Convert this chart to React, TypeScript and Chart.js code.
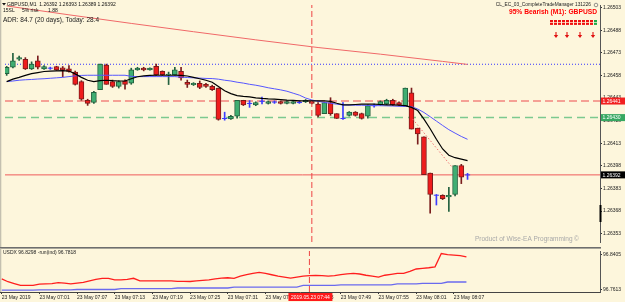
import React, { useEffect, useRef } from "react";
import { Chart, registerables } from "chart.js";
Chart.register(...registerables);

// ---------- data ----------
const xTickIdx = [0, 6, 12, 18, 24, 30, 36, 42, 48, 54, 60, 66, 72];
const xTickLabels = [
  "23 May 2019", "23 May 07:01", "23 May 07:07", "23 May 07:13", "23 May 07:19",
  "23 May 07:25", "23 May 07:31", "23 May 07:37", "23 May 07:43", "23 May 07:49",
  "23 May 07:55", "23 May 08:01", "23 May 08:07",
];
const priceTicks = [1.26503, 1.26488, 1.26473, 1.26458, 1.26443, 1.26428, 1.26413, 1.26398, 1.26383, 1.26368, 1.26353];
const usdxTicks = [96.8405, 96.7613];

const open = [
  1.264592, 1.264634, 1.264687, 1.264687, 1.264623, 1.264677, 1.264623, 1.264628, 1.264639, 1.26463,
  1.264623, 1.264602, 1.264539, 1.264415, 1.2644, 1.264486, 1.264649, 1.264539, 1.264507, 1.264543,
  1.264528, 1.264617, 1.264628, 1.264617, 1.264641, 1.264607, 1.264585, 1.264585, 1.264607, 1.264534,
  1.264518, 1.264528, 1.264521, 1.264507, 1.264496, 1.264294, 1.264292, 1.264309, 1.264415, 1.264394,
  1.264385, 1.264408, 1.264394, 1.264403, 1.264407, 1.264394, 1.264394, 1.2644, 1.264405, 1.264407,
  1.26439, 1.264326, 1.2644, 1.264326, 1.264294, 1.264315, 1.264336, 1.264326, 1.264309, 1.264379,
  1.264385, 1.26439, 1.264415, 1.2644, 1.264379, 1.264464, 1.26423, 1.264173, 1.263932, 1.263785,
  1.263784, 1.263773, 1.26379, 1.263981, 1.26392,
];
const high = [
  1.26464, 1.264726, 1.264708, 1.264698, 1.26467, 1.264709, 1.264645, 1.264635, 1.264641, 1.264639,
  1.264645, 1.264609, 1.264545, 1.264422, 1.264475, 1.264655, 1.264655, 1.264549, 1.264545, 1.26455,
  1.264628, 1.264634, 1.264634, 1.26463, 1.264655, 1.26461, 1.264602, 1.264634, 1.264634, 1.264549,
  1.264532, 1.264543, 1.264528, 1.264515, 1.264496, 1.264336, 1.264315, 1.264415, 1.264415, 1.264413,
  1.264405, 1.264436, 1.264411, 1.264411, 1.264411, 1.264411, 1.264411, 1.264411, 1.26442, 1.264411,
  1.2644, 1.2644, 1.264432, 1.264326, 1.2644, 1.26434, 1.26434, 1.26433, 1.264385, 1.26439,
  1.264411, 1.264422, 1.264422, 1.264405, 1.264496, 1.264496, 1.26423, 1.264173, 1.263932, 1.26379,
  1.263788, 1.263837, 1.263981, 1.26399, 1.26393,
];
const low = [
  1.26458, 1.26463, 1.26468, 1.264619, 1.264619, 1.264623, 1.264619, 1.26462, 1.264613, 1.264571,
  1.264602, 1.264516, 1.264415, 1.264381, 1.264394, 1.264486, 1.264521, 1.2645, 1.264496, 1.264489,
  1.264521, 1.264614, 1.26461, 1.264614, 1.26458, 1.26458, 1.264519, 1.264582, 1.264549, 1.2645,
  1.264513, 1.264492, 1.2645, 1.26448, 1.264283, 1.264283, 1.264288, 1.264296, 1.26438, 1.264368,
  1.264379, 1.26439, 1.26439, 1.264394, 1.26439, 1.26439, 1.26439, 1.264394, 1.2644, 1.26439,
  1.264304, 1.264326, 1.264315, 1.264294, 1.264288, 1.26431, 1.26431, 1.26429, 1.264296, 1.26437,
  1.26438, 1.264385, 1.26438, 1.264379, 1.264379, 1.264224, 1.264124, 1.263921, 1.263666, 1.26372,
  1.263756, 1.263677, 1.26378, 1.263862, 1.26389,
];
const close = [
  1.264634, 1.264677, 1.264698, 1.264623, 1.264655, 1.264634, 1.264639, 1.264628, 1.264617, 1.264617,
  1.264607, 1.264521, 1.264422, 1.264394, 1.264468, 1.264655, 1.264521, 1.264507, 1.264539, 1.264521,
  1.264617, 1.264628, 1.264617, 1.264628, 1.264585, 1.264585, 1.264588, 1.264617, 1.264564, 1.264521,
  1.264528, 1.2645, 1.264507, 1.264486, 1.264288, 1.264294, 1.264309, 1.264415, 1.264385, 1.264394,
  1.2644, 1.264408, 1.264407, 1.264403, 1.264394, 1.264407, 1.264407, 1.2644, 1.264415, 1.264394,
  1.264315, 1.2644, 1.264326, 1.264294, 1.264294, 1.264336, 1.264315, 1.264294, 1.264379, 1.264379,
  1.264407, 1.264415, 1.264385, 1.264385, 1.264496, 1.264224, 1.264192, 1.263921, 1.26379, 1.263785,
  1.263762, 1.263784, 1.263981, 1.263905, 1.26392,
];
const maFast = [
  1.264539, 1.264555, 1.264567, 1.26458, 1.264592, 1.264599, 1.264606, 1.264608, 1.26461, 1.264612,
  1.264609, 1.26459, 1.264567, 1.264548, 1.264539, 1.264545, 1.264548, 1.264545, 1.264543, 1.264543,
  1.264558, 1.264571, 1.264577, 1.26458, 1.264581, 1.264581, 1.264581, 1.264581, 1.26458, 1.264576,
  1.264567, 1.264558, 1.264548, 1.264535, 1.264507, 1.264478, 1.264459, 1.264446, 1.264441, 1.264437,
  1.264431, 1.264427, 1.264424, 1.264422, 1.264419, 1.264416, 1.264414, 1.264411, 1.264411, 1.264411,
  1.264411, 1.264411, 1.264408, 1.264395, 1.264385, 1.264385, 1.264387, 1.264389, 1.26439, 1.264389,
  1.264387, 1.264385, 1.264384, 1.264382, 1.264379, 1.264368, 1.264347, 1.26429, 1.264226, 1.264156,
  1.264092, 1.26405, 1.264034, 1.264025, 1.264015,
];
const maSlow = [
  1.264539, 1.264543, 1.264548, 1.264551, 1.264553, 1.264556, 1.264558, 1.264561, 1.264564, 1.264567,
  1.264572, 1.264577, 1.26458, 1.264581, 1.264581, 1.264581, 1.264581, 1.264581, 1.264581, 1.264581,
  1.264574, 1.264572, 1.264572, 1.264572, 1.264572, 1.264572, 1.264572, 1.264572, 1.264569, 1.264566,
  1.264564, 1.264562, 1.26456, 1.264559, 1.264555, 1.264548, 1.264543, 1.264535, 1.264529, 1.264521,
  1.264515, 1.264507, 1.264498, 1.264491, 1.264484, 1.264475, 1.264462, 1.264449, 1.26443, 1.264417,
  1.264408, 1.264401, 1.264395, 1.264389, 1.264384, 1.264383, 1.264382, 1.264382, 1.264381, 1.26438,
  1.264379, 1.264378, 1.264377, 1.264375, 1.264374, 1.264373, 1.264357, 1.264334, 1.264306, 1.264277,
  1.264248, 1.26422, 1.264197, 1.264175, 1.264156,
];
const ma200Idx = [0, 10, 20, 30, 40, 50, 60, 70, 74];
const ma200 = [1.265041, 1.264982, 1.264925, 1.26487, 1.264816, 1.264765, 1.264721, 1.264673, 1.264653];

const usdx = [
  96.7851, 96.7788, 96.7746, 96.7704, 96.7704, 96.7704, 96.7736, 96.774, 96.7746, 96.7767,
  96.7757, 96.774, 96.7757, 96.7773, 96.7809, 96.7841, 96.7862, 96.7862, 96.783, 96.783,
  96.7841, 96.7866, 96.7809, 96.7809, 96.7809, 96.7809, 96.7809, 96.7809, 96.7798, 96.7798,
  96.7794, 96.7809, 96.782, 96.783, 96.7851, 96.7872, 96.7878, 96.7866, 96.7914, 96.795,
  96.7978, 96.7999, 96.7978, 96.7946, 96.7914, 96.7893, 96.7872, 96.7893, 96.7914, 96.7925,
  96.7929, 96.7925, 96.7914, 96.7925, 96.795, 96.7967, 96.7978, 96.7963, 96.7935, 96.7914,
  96.7893, 96.7935, 96.7956, 96.7978, 96.7978, 96.802, 96.8076, 96.8089, 96.8104, 96.8125,
  96.8426, 96.8399, 96.8388, 96.8378, 96.835,
];
const usdxRun = [
  96.7598, 96.7598, 96.7598, 96.7598, 96.7598, 96.7598, 96.7605, 96.7605, 96.7605, 96.7605,
  96.7605, 96.7605, 96.7613, 96.7613, 96.7613, 96.7613, 96.7613, 96.7613, 96.7613, 96.7634,
  96.7634, 96.7634, 96.7634, 96.7634, 96.7634, 96.7634, 96.7634, 96.7634, 96.7647, 96.7647,
  96.7647, 96.7647, 96.7647, 96.7647, 96.7647, 96.7647, 96.7647, 96.7668, 96.7668, 96.7668,
  96.7668, 96.7668, 96.7668, 96.7668, 96.7668, 96.7668, 96.7668, 96.7668, 96.7704, 96.7704,
  96.7704, 96.7704, 96.7704, 96.7704, 96.7719, 96.7719, 96.7719, 96.7719, 96.7719, 96.7719,
  96.7719, 96.7719, 96.7719, 96.774, 96.774, 96.774, 96.774, 96.7752, 96.7752, 96.7752,
  96.7752, 96.7782, 96.7782, 96.7782, 96.7782,
];

const levelBlueDotted = 1.264654;
const levelRed = 1.26441;
const levelGreen = 1.2643;
const bidPrice = 1.26392;
const crossIdx = 49;
const crossLabel = "2019.05.23 07:44";
const trendIdx = [65.2, 71.4];
const trendVal = [1.26429, 1.263977];

// ---------- styles ----------
const BG = "#fdf6dc";
const FONT = '"Liberation Sans", Arial, sans-serif';
const XMIN = -0.27;
const XMAX = 95.27;
const Y_MAX = 1.2650472;
const Y_MIN = 1.2634746;
const Y2_MAX = 96.84829;
const Y2_MIN = 96.75561;
const BULL_FILL = "#3fae72";
const BULL_EDGE = "#23613f";
const BEAR_FILL = "#ef1c1c";
const BEAR_EDGE = "#7a1d1d";
const DOJI = "#3b3bff";

function hline(v: number, color: string, width: number, dash: number[], order: number) {
  return {
    type: "line",
    data: [{ x: XMIN, y: v }, { x: XMAX, y: v }],
    borderColor: color,
    borderWidth: width,
    borderDash: dash,
    pointRadius: 0,
    order,
  };
}

const overlayMain = {
  id: "overlayMain",
  afterDraw(chart: any) {
    const ctx = chart.ctx;
    const ys = chart.scales.y;
    ctx.save();
    // left strip
    ctx.fillStyle = "#c4c0b0";
    ctx.fillRect(0, 0, 1.3, 247);
    // header
    ctx.textBaseline = "middle";
    ctx.textAlign = "left";
    ctx.fillStyle = "#111";
    ctx.beginPath();
    ctx.moveTo(2, 3);
    ctx.lineTo(6, 3);
    ctx.lineTo(4, 5.5);
    ctx.closePath();
    ctx.fill();
    ctx.font = `5px ${FONT}`;
    ctx.fillText("GBPUSD,M1  1.26392 1.26393 1.26389 1.26392", 7, 4.5);
    ctx.fillText("15SL", 3, 10.5);
    ctx.fillText("5% risk", 22, 10.5);
    ctx.fillText("1.88", 48, 10.5);
    ctx.font = `6.5px ${FONT}`;
    ctx.fillStyle = "#1a1a1a";
    ctx.fillText("ADR: 84.7 (20 days), Today: 28.4", 3, 20.5);
    // top right
    ctx.textAlign = "right";
    ctx.font = `4.8px ${FONT}`;
    ctx.fillStyle = "#222";
    ctx.fillText("CL_EC_03_CompleteTradeManager 131226", 591, 5);
    ctx.strokeStyle = "#777";
    ctx.lineWidth = 0.8;
    ctx.beginPath();
    ctx.arc(596, 5, 1.8, 0, Math.PI * 2);
    ctx.stroke();
    ctx.font = `bold 6.7px ${FONT}`;
    ctx.fillStyle = "#f00";
    ctx.fillText("95% Bearish (M1): GBPUSD", 597, 12.5);
    for (let r = 0; r < 2; r++) {
      for (let c = 0; c < 12; c++) {
        ctx.fillStyle = c === 11 ? "#1fa84a" : "#ee1111";
        ctx.fillRect(550 + 4 * c, 20 + 2.8 * r, 3, 2.1);
      }
    }
    ctx.strokeStyle = "#e01010";
    ctx.fillStyle = "#e01010";
    ctx.lineWidth = 1.1;
    for (const ax of [556, 567, 580, 593]) {
      ctx.beginPath();
      ctx.moveTo(ax, 32);
      ctx.lineTo(ax, 36);
      ctx.stroke();
      ctx.beginPath();
      ctx.moveTo(ax - 2.2, 35);
      ctx.lineTo(ax + 2.2, 35);
      ctx.lineTo(ax, 38);
      ctx.closePath();
      ctx.fill();
    }
    // watermark
    ctx.textAlign = "left";
    ctx.fillStyle = "#a9a9a9";
    ctx.font = `6.5px ${FONT}`;
    ctx.fillText("Product of Wise-EA Programming", 475, 239.5);
    ctx.fillText("©", 574, 239.5);
    // axis marker
    ctx.fillStyle = "#000";
    ctx.fillRect(599.5, 205, 2, 17);
    // price boxes
    const box = (v: number, bg: string, fg: string) => {
      const py = ys.getPixelForValue(v);
      ctx.fillStyle = bg;
      ctx.fillRect(601, py - 3.5, 24, 7);
      ctx.fillStyle = fg;
      ctx.font = `5px ${FONT}`;
      ctx.fillText(v.toFixed(5), 602.5, py + 0.3);
    };
    box(levelRed, "#f22020", "#fff");
    box(levelGreen, "#37a862", "#fff");
    box(bidPrice, "#000", "#fff");
    ctx.restore();
  },
};

const overlayLow = {
  id: "overlayLow",
  afterDraw(chart: any) {
    const ctx = chart.ctx;
    const xs = chart.scales.x;
    ctx.save();
    ctx.fillStyle = "#6e6e6e";
    ctx.fillRect(0, 0, 601, 1.6);
    ctx.fillStyle = "#c4c0b0";
    ctx.fillRect(0, 1.6, 1.3, 43.4);
    ctx.textBaseline = "middle";
    ctx.textAlign = "left";
    ctx.font = `5px ${FONT}`;
    ctx.fillStyle = "#222";
    ctx.fillText("USDX 96.8298 -run(ind) 96.7818", 3, 5.7);
    const cx = xs.getPixelForValue(crossIdx);
    ctx.fillStyle = "#ff1a1a";
    ctx.fillRect(cx - 21, 46, 44, 8);
    ctx.fillStyle = "#fff";
    ctx.textAlign = "center";
    ctx.fillText(crossLabel, cx + 1, 50.2);
    ctx.restore();
  },
};

export default function App() {
  const mainRef = useRef<HTMLCanvasElement>(null);
  const lowRef = useRef<HTMLCanvasElement>(null);

  useEffect(() => {
    document.body.style.margin = "0";
    document.body.style.background = BG;
    const idx = open.map((_, i) => i);
    const isDoji = (i: number) => open[i] === close[i];
    const bull = (i: number) => close[i] > open[i];
    const bodyIdx = idx.filter((i) => !isDoji(i));
    const dojiIdx = idx.filter((i) => isDoji(i));

    const tickFont = { family: FONT, size: 5 };

    const mainChart = new Chart(mainRef.current as HTMLCanvasElement, {
      type: "bar",
      data: {
        datasets: [
          hline(levelBlueDotted, "#3434ff", 1, [1, 2], 20),
          hline(levelRed, "#f5a095", 2, [8, 4], 20),
          hline(levelGreen, "#7cc98f", 1.5, [8, 5], 20),
          hline(bidPrice, "#ef5a5a", 1, [], 20),
          {
            type: "bar",
            data: idx.map((i) => ({ x: i, y: [low[i], high[i]] })),
            backgroundColor: idx.map((i) => (isDoji(i) ? DOJI : bull(i) ? BULL_EDGE : BEAR_EDGE)),
            barThickness: 1,
            grouped: false,
            order: 8,
          },
          {
            type: "bar",
            data: bodyIdx.map((i) => ({ x: i, y: [open[i], close[i]] })),
            backgroundColor: bodyIdx.map((i) => (bull(i) ? BULL_FILL : BEAR_FILL)),
            borderColor: bodyIdx.map((i) => (bull(i) ? BULL_EDGE : BEAR_EDGE)),
            borderWidth: 1,
            borderSkipped: false,
            barThickness: 5,
            grouped: false,
            order: 7,
          },
          {
            type: "line",
            data: dojiIdx.map((i) => ({ x: i, y: open[i] })),
            showLine: false,
            pointStyle: "line",
            pointRadius: 2.6,
            borderColor: DOJI,
            borderWidth: 1,
            order: 6,
          },
          {
            type: "line",
            data: ma200Idx.map((x, k) => ({ x, y: ma200[k] })),
            borderColor: "#f06868",
            borderWidth: 1,
            pointRadius: 0,
            order: 3,
          },
          {
            type: "line",
            data: idx.map((i) => ({ x: i, y: maSlow[i] })),
            borderColor: "#5555ff",
            borderWidth: 1,
            pointRadius: 0,
            order: 2,
          },
          {
            type: "line",
            data: idx.map((i) => ({ x: i, y: maFast[i] })),
            borderColor: "#000",
            borderWidth: 1.2,
            pointRadius: 0,
            order: 1,
          },
          {
            type: "line",
            data: trendIdx.map((x, k) => ({ x, y: trendVal[k] })),
            borderColor: "#f07070",
            borderWidth: 1,
            borderDash: [1.5, 2],
            pointRadius: 0,
            order: 2,
          },
          {
            type: "line",
            data: [{ x: crossIdx, y: Y_MIN }, { x: crossIdx, y: Y_MAX }],
            borderColor: "#ee4444",
            borderWidth: 1,
            borderDash: [6, 3],
            pointRadius: 0,
            order: 0,
          },
        ] as any,
      },
      options: {
        responsive: false,
        animation: false,
        events: [],
        layout: { padding: 0 },
        plugins: { legend: { display: false }, tooltip: { enabled: false } },
        scales: {
          x: { type: "linear", min: XMIN, max: XMAX, display: false, offset: false },
          y: {
            type: "linear",
            position: "right",
            min: Y_MIN,
            max: Y_MAX,
            beginAtZero: false,
            afterFit: (s: any) => { s.width = 25; },
            afterBuildTicks: (s: any) => { s.ticks = priceTicks.map((v) => ({ value: v })); },
            ticks: {
              callback: (v: any) => Number(v).toFixed(5),
              font: tickFont,
              color: "#222",
              padding: 1,
              autoSkip: false,
            },
            grid: { drawOnChartArea: false, drawTicks: true, tickLength: 2, color: "#333" },
            border: { display: true, color: "#555", width: 1 },
          },
        },
      } as any,
      plugins: [overlayMain],
    } as any);

    const lowChart = new Chart(lowRef.current as HTMLCanvasElement, {
      type: "line",
      data: {
        datasets: [
          {
            data: idx.map((i) => ({ x: i, y: usdxRun[i] })),
            borderColor: "#6a6aee",
            borderWidth: 1.3,
            pointRadius: 0,
            order: 2,
          },
          {
            data: idx.map((i) => ({ x: i, y: usdx[i] })),
            borderColor: "#ff1e1e",
            borderWidth: 1.3,
            pointRadius: 0,
            order: 1,
          },
          {
            data: [{ x: crossIdx, y: Y2_MIN }, { x: crossIdx, y: Y2_MAX }],
            borderColor: "#ee4444",
            borderWidth: 1,
            borderDash: [6, 3],
            pointRadius: 0,
            order: 0,
          },
        ] as any,
      },
      options: {
        responsive: false,
        animation: false,
        events: [],
        layout: { padding: { top: 1, left: 0, right: 0, bottom: 0 } },
        plugins: { legend: { display: false }, tooltip: { enabled: false } },
        scales: {
          x: {
            type: "linear",
            min: XMIN,
            max: XMAX,
            afterFit: (s: any) => { s.height = 10; },
            afterBuildTicks: (s: any) => { s.ticks = xTickIdx.map((v) => ({ value: v })); },
            ticks: {
              callback: (v: any) => {
                const k = xTickIdx.indexOf(Number(v));
                return k >= 0 ? xTickLabels[k] : "";
              },
              align: "start",
              autoSkip: false,
              maxRotation: 0,
              minRotation: 0,
              font: tickFont,
              color: "#222",
              padding: 1,
            },
            grid: { drawOnChartArea: false, drawTicks: true, tickLength: 2, color: "#333" },
            border: { display: true, color: "#444", width: 1 },
          },
          y: {
            type: "linear",
            position: "right",
            min: Y2_MIN,
            max: Y2_MAX,
            afterFit: (s: any) => { s.width = 25; },
            afterBuildTicks: (s: any) => { s.ticks = usdxTicks.map((v) => ({ value: v })); },
            ticks: {
              callback: (v: any) => Number(v).toFixed(4),
              font: tickFont,
              color: "#222",
              padding: 1,
              autoSkip: false,
            },
            grid: { drawOnChartArea: false, drawTicks: true, tickLength: 2, color: "#333" },
            border: { display: true, color: "#555", width: 1 },
          },
        },
      } as any,
      plugins: [overlayLow],
    } as any);

    return () => {
      mainChart.destroy();
      lowChart.destroy();
    };
  }, []);

  return (
    <div style={{ position: "relative", width: 625, height: 302, background: BG, overflow: "hidden" }}>
      <canvas
        ref={mainRef}
        width={625}
        height={247}
        style={{ position: "absolute", left: 0, top: 0, width: 625, height: 247 }}
      />
      <canvas
        ref={lowRef}
        width={625}
        height={55}
        style={{ position: "absolute", left: 0, top: 247, width: 625, height: 55 }}
      />
    </div>
  );
}
